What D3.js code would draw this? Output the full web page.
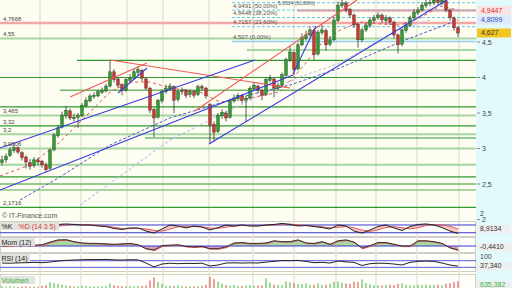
<!DOCTYPE html>
<html><head><meta charset="utf-8">
<script src="https://cdn.jsdelivr.net/npm/d3@7"></script>
<style>body{margin:0;background:#fff}svg{display:block}text{font-family:"Liberation Sans",Arial,sans-serif}</style>
</head><body><svg id="c" width="512" height="288"></svg>
<script>
// ---------- DATA ----------
const opens=[2.80,2.84,2.90,2.97,3.01,2.94,2.88,2.80,2.76,2.84,2.82,2.77,2.72,2.98,3.18,3.30,3.46,3.53,3.42,3.44,3.46,3.60,3.67,3.73,3.74,3.79,3.81,3.88,4.08,3.98,3.90,3.82,3.96,3.99,4.07,4.10,3.98,3.85,3.55,3.44,3.67,3.80,3.84,3.87,3.69,3.80,3.82,3.76,3.80,3.76,3.87,3.85,3.62,3.34,3.24,3.46,3.50,3.44,3.67,3.70,3.75,3.68,3.71,3.84,3.88,3.82,3.76,3.96,3.98,3.85,3.89,4.03,4.24,4.35,4.12,4.46,4.55,4.60,4.66,4.33,4.63,4.66,4.47,4.53,4.80,5.01,5.05,4.96,4.88,4.75,4.53,4.67,4.73,4.80,4.84,4.88,4.80,4.84,4.78,4.60,4.47,4.66,4.73,4.84,4.91,4.95,5.01,5.04,5.05,5.09,5.05,5.08,4.95,4.84,4.70];
const highs=[2.90,2.93,3.02,3.06,3.03,2.96,2.90,2.85,2.88,2.87,2.84,2.80,3.00,3.22,3.33,3.52,3.60,3.56,3.49,3.50,3.64,3.72,3.77,3.79,3.83,3.86,3.91,4.24,4.12,4.00,3.92,3.99,4.05,4.12,4.16,4.12,4.00,3.87,3.58,3.70,3.83,3.90,3.92,3.89,3.82,3.86,3.84,3.83,3.82,3.90,3.90,3.87,3.64,3.38,3.50,3.55,3.53,3.70,3.76,3.78,3.77,3.74,3.88,3.93,3.90,3.84,4.00,4.04,4.00,3.93,4.07,4.28,4.45,4.37,4.49,4.62,4.66,4.72,4.68,4.67,4.74,4.69,4.58,4.85,5.07,5.12,5.08,4.98,4.90,4.77,4.70,4.78,4.85,4.88,4.92,4.90,4.88,4.86,4.80,4.62,4.70,4.78,4.87,4.96,4.99,5.06,5.10,5.11,5.14,5.12,5.14,5.10,4.97,4.86,4.72];
const lows=[2.76,2.80,2.88,2.94,2.92,2.83,2.72,2.70,2.73,2.76,2.73,2.66,2.70,2.96,3.15,3.28,3.42,3.40,3.38,3.29,3.44,3.58,3.65,3.70,3.72,3.77,3.79,3.86,3.93,3.85,3.75,3.80,3.93,3.97,4.03,3.95,3.82,3.50,3.16,3.42,3.64,3.77,3.81,3.50,3.66,3.76,3.71,3.72,3.71,3.74,3.81,3.70,3.08,3.10,3.22,3.42,3.38,3.42,3.64,3.67,3.64,3.38,3.69,3.81,3.78,3.68,3.74,3.93,3.72,3.82,3.87,4.01,4.22,4.03,4.10,4.44,4.52,4.57,4.25,4.31,4.60,4.38,4.44,4.51,4.78,4.98,4.92,4.84,4.70,4.42,4.50,4.64,4.70,4.77,4.81,4.77,4.76,4.74,4.55,4.34,4.44,4.63,4.71,4.81,4.88,4.93,4.98,5.00,5.02,5.01,5.02,4.92,4.80,4.66,4.57];
const closes=[2.84,2.89,2.98,3.01,2.95,2.87,2.81,2.75,2.84,2.81,2.77,2.70,2.98,3.19,3.29,3.47,3.54,3.43,3.44,3.47,3.61,3.68,3.74,3.75,3.80,3.82,3.88,4.08,3.97,3.89,3.82,3.97,3.99,4.08,4.11,3.99,3.85,3.54,3.43,3.68,3.80,3.85,3.88,3.68,3.80,3.82,3.75,3.80,3.75,3.87,3.85,3.74,3.33,3.23,3.47,3.51,3.43,3.68,3.71,3.75,3.68,3.71,3.85,3.89,3.82,3.75,3.97,3.99,3.85,3.89,4.04,4.25,4.36,4.11,4.46,4.56,4.60,4.67,4.32,4.64,4.67,4.46,4.53,4.81,5.02,5.05,4.95,4.88,4.74,4.53,4.67,4.74,4.81,4.84,4.88,4.81,4.84,4.78,4.60,4.46,4.67,4.74,4.84,4.92,4.95,5.02,5.05,5.06,5.09,5.06,5.09,4.95,4.84,4.70,4.627];
const volumes=[180,120,160,140,100,130,150,120,140,110,200,260,520,450,380,300,220,180,150,160,200,180,140,160,150,170,190,420,260,200,180,160,190,150,170,200,240,700,1000,560,380,220,200,180,240,170,150,160,140,180,200,300,1050,820,600,400,260,220,280,200,190,230,260,200,220,250,900,500,320,280,260,600,520,450,380,350,420,300,280,420,260,300,380,560,600,500,420,380,600,560,800,450,350,260,240,220,280,300,260,380,420,300,260,240,280,300,320,260,280,300,250,380,450,560,635];
// month separators (bar index)
const monthIdx=[10,20.25,31.75,40.75,52.25,63.25,73.5,84,94,104.25,114.75];
// horizontal support / resistance levels
const greenLevels=[4.55,4.387,4.242,4.0,3.82,3.585,3.465,3.32,3.2,3.148,3.0006,2.77,2.6,2.5,2.415,2.1716];
const greenStart=[0,61.75,19.25,0,15,0,0,0,0,36.25,0,0,0,0,0,0];
const greenKind=[1,1,0,0,2,0,1,0,1,0,1,1,0,0,1,0];
const pinkLevels=[4.9447,4.7668];
const pinkStart=[74.25,0];
const levelLabelVals=[4.7668,4.55,3.465,3.32,3.2,3.0006,2.1716];
const levelLabels=["4,7668","4,55","3,465","3,32","3,2","3,0006","2,1716"];
const fibLevels=[4.507,4.7157,4.8448,4.9491,5.0534];
const fibLabels=["4,507 (0,00%)","4,7157 (23,60%)","4,8448 (38,20%)","4,9491 (50,00%)","5,0534 (61,80%)"];
const fibStart=58;
const yTicks=[2,2.5,3,3.5,4,4.5];
const yTickLabels=["2","2,5","3","3,5","4","4,5"];
// trend lines [index, price]
const redLines=[[[27.5,4.246],[72.5,3.852]],[[17.5,3.725],[36.75,4.204]],[[48.75,3.528],[89.25,5.092]]];
const blueLines=[[[0,3.007],[63.75,4.246]],[[0,2.415],[73.25,4.035]],[[52.25,3.063],[111.75,5.092]],[[29.5,3.782],[36.75,4.134]],[[73.25,4.049],[79,4.725]]];
// moving averages (dashed)
const maRedIdx=[0,7.5,15,22.5,27.5,32.5,37.5,42.5,50,55,60,65,70,75,80,85,90,95,100,105,110,114.5];
const maRed=[2.613,2.768,3.092,3.514,3.796,3.937,3.937,3.852,3.796,3.655,3.683,3.739,3.796,4.106,4.458,4.669,4.782,4.754,4.739,4.838,5.007,4.951];
const maBlueIdx=[5,15,27.5,42.5,59.25,72.5,85,100,114.5];
const maBlue=[2.275,2.599,3.049,3.430,3.711,3.894,4.134,4.5,4.81];
const maLavIdx=[20,42.5,60,74.25,85,99.25,107.5];
const maLav=[2.204,3.120,3.613,3.993,4.204,4.669,4.81];
// indicators (every 2 bars)
const stochK=[64,68,72,72,68,60,64,84,88,84,80,80,72,68,53,45,57,57,33,17,49,80,72,57,72,64,41,60,80,72,80,72,72,80,84,92,84,72,76,68,60,49,80,72,33,17,41,68,80,57,37,68,84,88,80,60,33,14];
const stochD=[66,67,70,71,70,66,63,70,79,85,83,81,77,71,62,53,51,54,50,38,32,48,66,70,67,66,56,54,63,71,76,75,74,76,80,86,87,81,76,72,66,57,62,68,58,40,30,42,60,67,58,50,59,76,84,82,70,50];
const mom=[0,0.05,0.1,0.1,0.1,0.15,0.45,0.7,0.72,0.5,0.35,0.3,0.3,0.25,0.2,0.25,0.3,0.15,-0.3,-0.45,0.05,0.1,0.15,-0.05,-0.1,-0.05,-0.3,-0.3,-0.1,0.35,0.4,0.3,0.3,0.35,0.6,0.5,0.5,0.7,0.35,0.3,0.5,0.2,0.6,0.7,0.45,-0.25,0.05,0.4,0.4,0.2,0,0,0.6,0.6,0.5,0.3,-0.2,-0.441];
const rsi=[56,55,57,58,60,58,62,68,72,74,76,77,77,78,75,74,76,75,56,33,50,55,52,54,53,55,38,44,56,57,56,57,56,62,66,71,70,72,66,58,60,56,68,63,60,41,52,55,54,50,44,60,66,68,66,56,44,37.34];

// ---------- DRAW ----------
const W=476, MAIN_B=213;
const svg=d3.select('#c');
svg.append('rect').attr('width',512).attr('height',288).attr('fill','#fdfdf2');
svg.append('rect').attr('x',W).attr('width',36).attr('height',288).attr('fill','#e3fafd');
const x=d3.scaleLinear().domain([0,119]).range([0,W]);
const y=d3.scaleLinear().domain([2,4.5]).range([219.5,42]);
const defs=svg.append('defs');
defs.append('clipPath').attr('id','mc').append('rect').attr('width',W).attr('height',MAIN_B);

// panels
const panels=[[221,236],[237,252],[253,271],[274,289]];
svg.selectAll('rect.pn').data(panels).join('rect').attr('x',0.5).attr('y',d=>d[0]+0.5).attr('width',W-1).attr('height',d=>d[1]-d[0])
  .attr('fill','#fefefa').attr('stroke','#cfcfc6');
// month grid
svg.selectAll('line.vg').data(monthIdx).join('line').attr('x1',d=>x(d)).attr('x2',d=>x(d)).attr('y1',0).attr('y2',288)
  .attr('stroke','#e4e4d4').attr('stroke-width',1.5);

const m=svg.append('g').attr('clip-path','url(#mc)');
const gColors=['#2f9a2f','#a5d6a0','#6fb86a'], gW=[1.2,2,1.5];
m.selectAll('line.gl').data(greenLevels).join('line').attr('x1',(d,i)=>x(greenStart[i])).attr('x2',W)
  .attr('y1',d=>y(d)).attr('y2',d=>y(d)).attr('stroke',(d,i)=>gColors[greenKind[i]]).attr('stroke-width',(d,i)=>gW[greenKind[i]]);
m.selectAll('line.pl').data(pinkLevels).join('line').attr('x1',(d,i)=>x(pinkStart[i])).attr('x2',W)
  .attr('y1',d=>y(d)).attr('y2',d=>y(d)).attr('stroke','#f3a6a6').attr('stroke-width',2.6);
m.selectAll('line.fl').data(fibLevels).join('line').attr('x1',x(fibStart)).attr('x2',W)
  .attr('y1',d=>y(d)).attr('y2',d=>y(d)).attr('stroke',(d,i)=>i?'#62c4f0':'#8ecff2')
  .attr('stroke-width',(d,i)=>i?1:1.6).attr('stroke-dasharray',(d,i)=>i?'3,2':null);

// moving averages
const ln=d3.line().x(d=>x(d[0])).y(d=>y(d[1]));
m.append('path').attr('d',ln(maLavIdx.map((d,i)=>[d,maLav[i]]))).attr('fill','none').attr('stroke','#c4c4f0').attr('stroke-width',1.2).attr('stroke-dasharray','3,2');
m.append('path').attr('d',ln(maBlueIdx.map((d,i)=>[d,maBlue[i]]))).attr('fill','none').attr('stroke','#4c5cc8').attr('stroke-width',1).attr('stroke-dasharray','3,2');
m.append('path').attr('d',ln(maRedIdx.map((d,i)=>[d,maRed[i]]))).attr('fill','none').attr('stroke','#e85050').attr('stroke-width',1).attr('stroke-dasharray','3,3');

// candles
const cg=m.append('g');
closes.forEach((c,i)=>{
  const o=opens[i], up=c>=o, cx=x(i+0.5);
  cg.append('line').attr('x1',cx).attr('x2',cx).attr('y1',y(highs[i])).attr('y2',y(lows[i])).attr('stroke','#333').attr('stroke-width',0.8);
  const t=y(Math.max(o,c)), b=y(Math.min(o,c));
  cg.append('rect').attr('x',cx-1.4).attr('width',2.8).attr('y',t).attr('height',Math.max(1,b-t))
    .attr('fill',up?'#2ca02c':'#d83030').attr('stroke','#2a3a2a').attr('stroke-width',0.4);
});
// trend lines
m.selectAll('line.rl').data(redLines).join('line').attr('x1',d=>x(d[0][0])).attr('y1',d=>y(d[0][1])).attr('x2',d=>x(d[1][0])).attr('y2',d=>y(d[1][1]))
  .attr('stroke','#f05858').attr('stroke-width',1.1);
m.selectAll('line.bl').data(blueLines).join('line').attr('x1',d=>x(d[0][0])).attr('y1',d=>y(d[0][1])).attr('x2',d=>x(d[1][0])).attr('y2',d=>y(d[1][1]))
  .attr('stroke','#3a3ae0').attr('stroke-width',1.1);

// level labels
m.selectAll('text.ll').data(levelLabelVals).join('text').attr('x',3).attr('y',d=>y(d)-2).text((d,i)=>levelLabels[i])
  .attr('font-size',6).attr('fill','#444');
svg.selectAll('text.fl').data(fibLevels).join('text').attr('x',(d,i)=>i===4?x(fibStart)+46:x(fibStart)+1)
  .attr('y',(d,i)=>i===4?5:y(d)-2.3).text((d,i)=>fibLabels[i])
  .attr('font-size',(d,i)=>i===4?5:6).attr('fill','#555');

// right axis
svg.selectAll('text.yt').data(yTicks).join('text').attr('x',482).attr('y',d=>y(d)+2.5).text((d,i)=>yTickLabels[i])
  .attr('font-size',7).attr('fill','#444');
svg.selectAll('line.ytm').data(yTicks).join('line').attr('x1',W+1).attr('x2',W+4).attr('y1',d=>y(d)).attr('y2',d=>y(d)).attr('stroke','#888');
function tag(v,txt,bg,fg){
  const yy=y(v);
  svg.append('rect').attr('x',W+1).attr('y',yy-4.5).attr('width',34).attr('height',9).attr('fill',bg);
  svg.append('text').attr('x',W+5).attr('y',yy+2.5).text(txt).attr('font-size',7).attr('fill',fg);
}
tag(4.9447,'4,9447','#fbe3e3','#e03030');
tag(4.8099,'4,8099','#dfe8fb','#3050c0');
tag(4.627,'4,627','#f3c623','#333');

svg.append('text').attr('x',2).attr('y',218).text('© IT-Finance.com').attr('font-size',7).attr('fill','#555');

// ---- stochastic ----
const ix=(k)=>x(2*k+0.5);
const sy=d3.scaleLinear().domain([0,100]).range([235.3,222.4]);
const st=svg.append('g');
st.append('path').attr('d',d3.area().x((d,k)=>ix(k)).y0((d,k)=>sy(stochD[k])).y1(d=>sy(d))(stochK)).attr('fill','#f6b8b8').attr('opacity',0.8);
[20,80].forEach(v=>st.append('line').attr('x1',0).attr('x2',W).attr('y1',sy(v)).attr('y2',sy(v)).attr('stroke','#3a3ad0').attr('stroke-width',1));
st.append('path').attr('d',d3.line().x((d,k)=>ix(k)).y(d=>sy(d))(stochD)).attr('fill','none').attr('stroke','#e05a5a').attr('stroke-width',1);
st.append('path').attr('d',d3.line().x((d,k)=>ix(k)).y(d=>sy(d))(stochK)).attr('fill','none').attr('stroke','#222').attr('stroke-width',1);

// ---- momentum ----
const my=d3.scaleLinear().domain([-0.8,0.8]).range([253,239]);
defs.append('clipPath').attr('id','mp').append('rect').attr('x',0).attr('y',237).attr('width',W).attr('height',my(0)-237);
defs.append('clipPath').attr('id','mn').append('rect').attr('x',0).attr('y',my(0)).attr('width',W).attr('height',252-my(0));
const ma=d3.area().x((d,k)=>ix(k)).y0(my(0)).y1(d=>my(d));
svg.append('path').attr('d',ma(mom)).attr('fill','#a9d6a2').attr('clip-path','url(#mp)');
svg.append('path').attr('d',ma(mom)).attr('fill','#dba2c4').attr('clip-path','url(#mn)');
svg.append('line').attr('x1',0).attr('x2',W).attr('y1',my(0)).attr('y2',my(0)).attr('stroke','#3a3ad0').attr('stroke-width',1);
svg.append('path').attr('d',d3.line().x((d,k)=>ix(k)).y(d=>my(d))(mom)).attr('fill','none').attr('stroke','#e05a5a').attr('stroke-width',1).attr('transform','translate(1,0.6)');
svg.append('path').attr('d',d3.line().x((d,k)=>ix(k)).y(d=>my(d))(mom)).attr('fill','none').attr('stroke','#222').attr('stroke-width',0.9);

// ---- RSI ----
const ry=d3.scaleLinear().domain([0,100]).range([272.3,255.75]);
[30,70].forEach(v=>svg.append('line').attr('x1',0).attr('x2',W).attr('y1',ry(v)).attr('y2',ry(v)).attr('stroke','#5a5ae0').attr('stroke-width',1));
svg.append('path').attr('d',d3.line().x((d,k)=>ix(k)).y(d=>ry(d))(rsi)).attr('fill','none').attr('stroke','#222').attr('stroke-width',1);

// ---- volume ----
const vy=d3.scaleLinear().domain([0,1300]).range([288,274]);
svg.selectAll('rect.vb').data(volumes).join('rect').attr('x',(d,i)=>x(i+0.5)-0.6).attr('width',1.2).attr('y',d=>vy(d)).attr('height',d=>288-vy(d))
  .attr('fill',(d,i)=>closes[i]>=opens[i]?'#5cc45c':'#e06060');

// panel labels
function plabel(x0,y0,w,txt,fg){
  svg.append('rect').attr('x',x0).attr('y',y0).attr('width',w).attr('height',8).attr('fill','#e2e2de');
  svg.append('text').attr('x',x0+1.5).attr('y',y0+6.6).text(txt).attr('font-size',7).attr('fill',fg);
}
plabel(0,222,17,'%K','#222');
plabel(17,222,42,'%D (14 3 5)','#e03a3a');
plabel(0,238,35,'Mom (12)','#222');
plabel(0,254,30,'RSI (14)','#222');
plabel(0,276,35,'Volumen','#3cb43c');

// right indicator tags
function rtag(yy,txt,fg,bg){
  if(bg) svg.append('rect').attr('x',W+1).attr('y',yy-6).attr('width',34).attr('height',8.5).attr('fill',bg);
  svg.append('text').attr('x',W+4).attr('y',yy).text(txt).attr('font-size',7).attr('fill',fg);
}
rtag(216,'2','#444',null);
rtag(231,'8,9134','#333','#eeeeee');
rtag(249,'-0,4410','#333','#eeeeee');
rtag(259,'100','#444',null);
rtag(268,'37,340','#333','#eeeeee');
rtag(287,'635,382','#3cb43c','#eeeeee');
</script></body></html>
